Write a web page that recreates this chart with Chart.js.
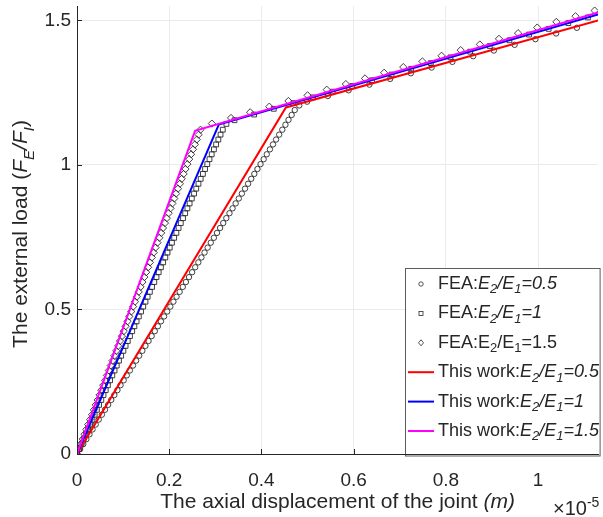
<!DOCTYPE html>
<html>
<head>
<meta charset="utf-8">
<script src="https://cdn.jsdelivr.net/npm/chart.js@4.4.1/dist/chart.umd.min.js"></script>
<style>
  html, body { margin: 0; padding: 0; background: #fff; }
  #wrap { width: 603px; height: 517px; }
</style>
</head>
<body>
<div id="wrap"><canvas id="chart" width="603" height="517"></canvas></div>
<script>
/* ── Axis ticks ── */
const xTicks = [0, 0.2, 0.4, 0.6, 0.8, 1];
const xTickLabels = ['0', '0.2', '0.4', '0.6', '0.8', '1'];
const yTicks = [0, 0.5, 1, 1.5];
const yTickLabels = ['0', '0.5', '1', '1.5'];

/* ── This work (analytical lines) ── */
const workDispA = [0, 0.453, 1.13];
const workLoadA = [0, 1.199, 1.500];
const workDispB = [0, 0.3075, 1.13];
const workLoadB = [0, 1.140, 1.521];
const workDispC = [0, 0.256, 1.13];
const workLoadC = [0, 1.118, 1.528];

/* ── FEA load steps on the elastic branch ── */
const feaStepLoads = [
  0.000, 0.017, 0.034, 0.051, 0.068, 0.085, 0.102, 0.119, 0.136, 0.153,
  0.170, 0.187, 0.204, 0.221, 0.238, 0.255, 0.272, 0.289, 0.306, 0.323,
  0.340, 0.357, 0.374, 0.391, 0.408, 0.425, 0.442, 0.459, 0.476, 0.493,
  0.510, 0.527, 0.544, 0.561, 0.578, 0.595, 0.612, 0.629, 0.646, 0.663,
  0.680, 0.697, 0.714, 0.731, 0.748, 0.765, 0.782, 0.799, 0.816, 0.833,
  0.850, 0.867, 0.884, 0.901, 0.918, 0.935, 0.952, 0.969, 0.986, 1.003,
  1.020, 1.037, 1.054, 1.071, 1.088, 1.105, 1.122, 1.139, 1.156, 1.173,
  1.190
];

/* ── FEA E2/E1 = 0.5 (circles) ── */
const feaDispA = [
  0.0000, 0.0067, 0.0135, 0.0202, 0.0270, 0.0337, 0.0405, 0.0472, 0.0540, 0.0607,
  0.0675, 0.0742, 0.0810, 0.0877, 0.0944, 0.1012, 0.1079, 0.1147, 0.1214, 0.1282,
  0.1349, 0.1417, 0.1484, 0.1552, 0.1619, 0.1687, 0.1754, 0.1821, 0.1889, 0.1956,
  0.2024, 0.2091, 0.2159, 0.2226, 0.2294, 0.2361, 0.2429, 0.2496, 0.2563, 0.2631,
  0.2698, 0.2766, 0.2833, 0.2901, 0.2968, 0.3036, 0.3103, 0.3171, 0.3238, 0.3306,
  0.3373, 0.3440, 0.3508, 0.3575, 0.3643, 0.3710, 0.3778, 0.3845, 0.3913, 0.3980,
  0.4048, 0.4115, 0.4183, 0.4250, 0.4317, 0.4385, 0.4452, 0.4520, 0.4587, 0.4655,
  0.4722,
  0.482, 0.499,
  0.544, 0.589, 0.634, 0.679, 0.724, 0.769, 0.814, 0.859, 0.904, 0.949, 0.994, 1.039, 1.084
];
const feaUpperLoadA = [
  1.206, 1.219,
  1.2387, 1.2583, 1.2780, 1.2977, 1.3173, 1.3370, 1.3567, 1.3763, 1.3960, 1.4157, 1.4353, 1.4550, 1.4746
];

/* ── FEA E2/E1 = 1 (squares) ── */
const feaDispB = [
  0.0000, 0.0048, 0.0096, 0.0144, 0.0192, 0.0239, 0.0287, 0.0335, 0.0383, 0.0431,
  0.0479, 0.0527, 0.0575, 0.0623, 0.0670, 0.0718, 0.0766, 0.0814, 0.0862, 0.0910,
  0.0958, 0.1006, 0.1054, 0.1101, 0.1149, 0.1197, 0.1245, 0.1293, 0.1341, 0.1389,
  0.1437, 0.1485, 0.1532, 0.1580, 0.1628, 0.1676, 0.1724, 0.1772, 0.1820, 0.1868,
  0.1915, 0.1963, 0.2011, 0.2059, 0.2107, 0.2155, 0.2203, 0.2251, 0.2299, 0.2346,
  0.2394, 0.2442, 0.2490, 0.2538, 0.2586, 0.2634, 0.2682, 0.2730, 0.2777, 0.2825,
  0.2873, 0.2921, 0.2969, 0.3017, 0.3065, 0.3113, 0.3161,
  0.3240,
  0.3415, 0.3841, 0.4267, 0.4692, 0.5118, 0.5544, 0.5970, 0.6396, 0.6821, 0.7247,
  0.7673, 0.8099, 0.8525, 0.8951, 0.9376, 0.9802, 1.0228, 1.0654, 1.1080
];
const feaUpperLoadB = [
  1.142,
  1.1548, 1.1745, 1.1943, 1.2140, 1.2338, 1.2536, 1.2733, 1.2931, 1.3128, 1.3326,
  1.3524, 1.3721, 1.3919, 1.4116, 1.4314, 1.4512, 1.4709, 1.4907, 1.5104
];

/* ── FEA E2/E1 = 1.5 (diamonds) ── */
const feaDispC = [
  0.0000, 0.0041, 0.0081, 0.0122, 0.0162, 0.0203, 0.0243, 0.0284, 0.0325, 0.0365,
  0.0406, 0.0446, 0.0487, 0.0527, 0.0568, 0.0609, 0.0649, 0.0690, 0.0730, 0.0771,
  0.0811, 0.0852, 0.0893, 0.0933, 0.0974, 0.1014, 0.1055, 0.1095, 0.1136, 0.1177,
  0.1217, 0.1258, 0.1298, 0.1339, 0.1379, 0.1420, 0.1461, 0.1501, 0.1542, 0.1582,
  0.1623, 0.1663, 0.1704, 0.1745, 0.1785, 0.1826, 0.1866, 0.1907, 0.1948, 0.1988,
  0.2029, 0.2069, 0.2110, 0.2150, 0.2191, 0.2232, 0.2272, 0.2313, 0.2353, 0.2394,
  0.2434, 0.2475, 0.2516, 0.2556, 0.2597, 0.2637, 0.2678,
  0.2925, 0.3340, 0.3755, 0.4170, 0.4585, 0.5000, 0.5415, 0.5830, 0.6245, 0.6660,
  0.7075, 0.7490, 0.7905, 0.8320, 0.8735, 0.9150, 0.9565, 0.9980, 1.0395, 1.0810, 1.1225
];
const feaUpperLoadC = [
  1.1432, 1.1627, 1.1823, 1.2018, 1.2214, 1.2409, 1.2605, 1.2800, 1.2996, 1.3191,
  1.3387, 1.3582, 1.3778, 1.3973, 1.4169, 1.4364, 1.4560, 1.4755, 1.4951, 1.5146, 1.5342
];

/* ── Styles ── */
const FONT = "'Liberation Sans', Arial, Helvetica, sans-serif";
const INK = '#262626';
const RED = '#ff0000', BLUE = '#0000ff', MAGENTA = '#ff00ff';
const MARK = '#2a2a2a';

function pts(xs, ys) { return xs.map((x, i) => ({ x, y: ys[i] })); }

const feaLoadA = feaStepLoads.concat(feaUpperLoadA);
const feaLoadB = feaStepLoads.slice(0, 67).concat(feaUpperLoadB);
const feaLoadC = feaStepLoads.slice(0, 67).concat(feaUpperLoadC);

/* ── Rich text: runs with italics / subscripts ── */
function runFont(r, size) {
  const s = r.sub || r.sup ? Math.round(size * 0.72) : size;
  return (r.it ? 'italic ' : '') + s + 'px ' + FONT;
}
function runsWidth(ctx, runs, size) {
  let w = 0;
  runs.forEach(r => { ctx.font = runFont(r, size); w += ctx.measureText(r.t).width; });
  return w;
}
function drawRuns(ctx, runs, x, y, size) {
  let cx = x;
  runs.forEach(r => {
    ctx.font = runFont(r, size);
    const dy = r.sub ? size * 0.32 : r.sup ? -size * 0.42 : 0;
    ctx.fillText(r.t, cx, y + dy);
    cx += ctx.measureText(r.t).width;
  });
}

function ratioRuns(prefix, value, italic) {
  return [
    { t: prefix },
    { t: 'E', it: italic }, { t: '2', it: italic, sub: true },
    { t: '/E', it: italic }, { t: '1', it: italic, sub: true },
    { t: '=' + value, it: italic }
  ];
}

const legendItems = [
  { kind: 'circle', runs: ratioRuns('FEA:', '0.5', true) },
  { kind: 'rect', runs: ratioRuns('FEA:', '1', true) },
  { kind: 'diamond', runs: ratioRuns('FEA:', '1.5', false) },
  { kind: 'line', color: RED, runs: ratioRuns('This work:', '0.5', true) },
  { kind: 'line', color: BLUE, runs: ratioRuns('This work:', '1', true) },
  { kind: 'line', color: MAGENTA, runs: ratioRuns('This work:', '1.5', true) }
];

/* ── Decorations: inward ticks, titles, exponent, legend ── */
const decor = {
  id: 'decor',
  afterDraw(chart) {
    const ctx = chart.ctx;
    const { left, right, top, bottom } = chart.chartArea;
    const sx = chart.scales.x, sy = chart.scales.y;
    ctx.save();

    // inward tick marks
    ctx.strokeStyle = INK;
    ctx.lineWidth = 1;
    ctx.beginPath();
    xTicks.forEach(v => {
      const px = Math.round(sx.getPixelForValue(v)) + 0.5;
      ctx.moveTo(px, bottom); ctx.lineTo(px, bottom - 5);
    });
    yTicks.forEach(v => {
      const py = Math.round(sy.getPixelForValue(v)) + 0.5;
      ctx.moveTo(left, py); ctx.lineTo(left + 5, py);
    });
    ctx.stroke();

    ctx.fillStyle = INK;
    ctx.textBaseline = 'alphabetic';
    ctx.textAlign = 'left';

    // x title
    const xRuns = [{ t: 'The axial displacement of the joint ' }, { t: '(m)', it: true }];
    const xw = runsWidth(ctx, xRuns, 21);
    drawRuns(ctx, xRuns, (left + right) / 2 - xw / 2, 508, 21);

    // exponent
    drawRuns(ctx, [{ t: '\u00d710' }, { t: '-5', sup: true }], 553, 515, 20);

    // y title
    const yRuns = [
      { t: 'The external load (' }, { t: 'F', it: true }, { t: 'E', it: true, sub: true },
      { t: '/F', it: true }, { t: 'I', it: true, sub: true }, { t: ')' }
    ];
    const yw = runsWidth(ctx, yRuns, 21);
    ctx.save();
    ctx.translate(27, (top + bottom) / 2 + 4);
    ctx.rotate(-Math.PI / 2);
    drawRuns(ctx, yRuns, -yw / 2, 0, 21);
    ctx.restore();

    // legend box
    const bx = 405.5, by = 268.5;
    ctx.fillStyle = '#ffffff';
    ctx.fillRect(bx, by, right - bx, bottom - by);
    ctx.strokeStyle = 'rgba(38,38,38,0.75)';
    ctx.lineWidth = 1;
    ctx.strokeRect(bx, by, right - bx + 2, bottom - by + 2);

    legendItems.forEach((item, i) => {
      const cy = 284 + i * 29.4;
      ctx.strokeStyle = MARK;
      ctx.lineWidth = 0.8;
      if (item.kind === 'circle') {
        ctx.beginPath(); ctx.arc(421, cy, 2.2, 0, Math.PI * 2); ctx.stroke();
      } else if (item.kind === 'rect') {
        ctx.strokeRect(419, cy - 2, 4, 4);
      } else if (item.kind === 'diamond') {
        ctx.beginPath();
        ctx.moveTo(421, cy - 3); ctx.lineTo(423.5, cy); ctx.lineTo(421, cy + 3); ctx.lineTo(418.5, cy);
        ctx.closePath(); ctx.stroke();
      } else {
        ctx.strokeStyle = item.color;
        ctx.lineWidth = 2;
        ctx.beginPath(); ctx.moveTo(408, cy); ctx.lineTo(434, cy); ctx.stroke();
      }
      ctx.fillStyle = INK;
      ctx.textBaseline = 'middle';
      drawRuns(ctx, item.runs, 438, cy, 18);
    });

    ctx.restore();
  }
};

function feaSet(label, xs, ys, style, radius) {
  return {
    label, data: pts(xs, ys), showLine: false, order: 5,
    pointStyle: style, pointRadius: radius,
    pointBorderColor: MARK, pointBackgroundColor: 'rgba(0,0,0,0)', pointBorderWidth: 0.9
  };
}
function workSet(label, xs, ys, color, order) {
  return {
    label, data: pts(xs, ys), showLine: true, order,
    borderColor: color, borderWidth: 2, pointRadius: 0, fill: false, tension: 0
  };
}

new Chart(document.getElementById('chart'), {
  type: 'scatter',
  data: {
    datasets: [
      feaSet('FEA 0.5', feaDispA, feaLoadA, 'circle', 2.7),
      feaSet('FEA 1', feaDispB, feaLoadB, 'rect', 3.4),
      feaSet('FEA 1.5', feaDispC, feaLoadC, 'rectRot', 3.6),
      workSet('This work 0.5', workDispA, workLoadA, RED, 3),
      workSet('This work 1', workDispB, workLoadB, BLUE, 2),
      workSet('This work 1.5', workDispC, workLoadC, MAGENTA, 1)
    ]
  },
  options: {
    responsive: false,
    animation: false,
    layout: { padding: { top: 6, right: -2, bottom: 0, left: 0 } },
    plugins: { legend: { display: false }, tooltip: { enabled: false } },
    scales: {
      x: {
        type: 'linear', min: 0, max: 1.13,
        afterBuildTicks: s => { s.ticks = xTicks.map(v => ({ value: v })); },
        afterFit: s => { s.height = 63; s.paddingLeft = 0; s.paddingRight = 0; },
        grid: { color: '#ebebeb', drawTicks: false },
        border: { color: INK, width: 1 },
        ticks: {
          color: INK, padding: 15, maxRotation: 0,
          font: { family: FONT, size: 19 },
          callback: (v) => xTickLabels[xTicks.indexOf(v)] ?? ''
        }
      },
      y: {
        type: 'linear', min: 0, max: 1.55,
        afterBuildTicks: s => { s.ticks = yTicks.map(v => ({ value: v })); },
        afterFit: s => { s.width = 77; s.paddingTop = 0; s.paddingBottom = 0; },
        grid: { color: '#ebebeb', drawTicks: false },
        border: { color: INK, width: 1 },
        ticks: {
          color: INK, padding: 6,
          font: { family: FONT, size: 19 },
          callback: (v) => yTickLabels[yTicks.indexOf(v)] ?? ''
        }
      }
    }
  },
  plugins: [decor]
});
</script>
</body>
</html>
